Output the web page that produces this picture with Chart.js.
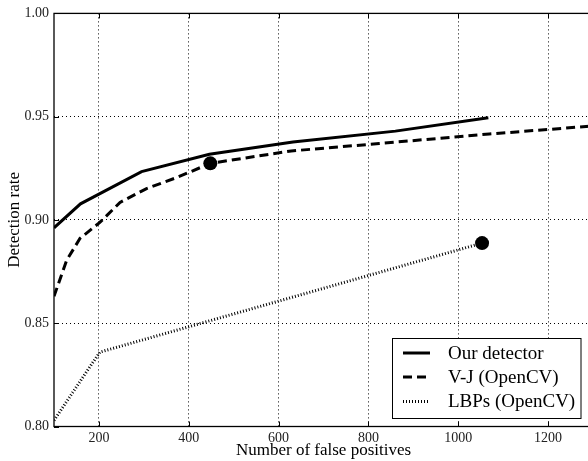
<!DOCTYPE html>
<html>
<head>
<meta charset="utf-8">
<script src="https://cdn.jsdelivr.net/npm/chart.js@4.4.0/dist/chart.umd.min.js"></script>
<style>
  html, body { margin: 0; padding: 0; background: #fff; overflow: hidden; }
  #wrap { width: 600px; height: 461px; }
</style>
</head>
<body>
<div id="wrap"><canvas id="myChart" width="600" height="461"></canvas></div>
<script>
// data
var ourX = [100, 159, 295, 446, 632, 860, 1067];
var ourY = [0.8962, 0.9078, 0.9234, 0.9318, 0.9377, 0.9430, 0.9495];

var vjX = [100, 128, 158, 202, 247, 306, 373, 448, 628, 824, 1069, 1300];
var vjY = [0.863, 0.8804, 0.8911, 0.8988, 0.9085, 0.9152, 0.9205, 0.9274, 0.9334, 0.9370, 0.9416, 0.9455];

var lbpX = [100, 202, 1053];
var lbpY = [0.803, 0.836, 0.8888];

// highlighted operating points
var markX = [448, 1053];
var markY = [0.9274, 0.8888];

var xTicks = [200, 400, 600, 800, 1000, 1200];
var yTicks = [0.80, 0.85, 0.90, 0.95, 1.00];
var legendNames = ["Our detector", "V-J (OpenCV)", "LBPs (OpenCV)"];

var serif = "'Liberation Serif', 'DejaVu Serif', serif";

function pts(xs, ys) {
  return xs.map(function(x, i){ return {x: x, y: ys[i]}; });
}

// frame, inward ticks and legend box
var framePlugin = {
  id: 'frame',
  afterDatasetsDraw: function(chart) {
    var ctx = chart.ctx;
    var a = chart.chartArea;
    var xs = chart.scales.x, ys = chart.scales.y;
    ctx.save();
    ctx.strokeStyle = '#000';
    ctx.lineWidth = 1.3;
    ctx.strokeRect(a.left, a.top, a.right - a.left, a.bottom - a.top);
    ctx.lineWidth = 1;
    ctx.beginPath();
    xTicks.forEach(function(v){
      var px = Math.round(xs.getPixelForValue(v)) + 0.5;
      ctx.moveTo(px, a.bottom); ctx.lineTo(px, a.bottom - 5);
      ctx.moveTo(px, a.top); ctx.lineTo(px, a.top + 5);
    });
    yTicks.forEach(function(v){
      var py = Math.round(ys.getPixelForValue(v)) + 0.5;
      ctx.moveTo(a.left, py); ctx.lineTo(a.left + 5, py);
      ctx.moveTo(a.right, py); ctx.lineTo(a.right - 5, py);
    });
    ctx.stroke();

    // legend
    var bx = 392.5, by = 338.5, bw = 188.5, bh = 80;
    ctx.fillStyle = '#fff';
    ctx.fillRect(bx, by, bw, bh);
    ctx.strokeStyle = '#000';
    ctx.lineWidth = 1;
    ctx.strokeRect(bx, by, bw, bh);
    var rows = [353, 377, 401.5];
    ctx.font = "19px " + serif;
    ctx.textBaseline = 'middle';
    ctx.textAlign = 'left';
    for (var i = 0; i < 3; i++) {
      var ds = chart.data.datasets[i];
      ctx.save();
      ctx.lineWidth = ds.borderWidth;
      ctx.lineCap = 'butt';
      ctx.setLineDash(ds.borderDash || []);
      ctx.beginPath();
      ctx.moveTo(403, rows[i]);
      ctx.lineTo(430, rows[i]);
      ctx.stroke();
      ctx.restore();
      ctx.fillStyle = '#000';
      ctx.fillText(legendNames[i], 448, rows[i] + 1);
    }
    ctx.restore();
  }
};

var ctx = document.getElementById("myChart").getContext("2d");
var myChart = new Chart(ctx, {
  type: 'line',
  data: {
    datasets: [
      {
        label: legendNames[0],
        data: pts(ourX, ourY),
        borderColor: '#000',
        borderWidth: 3,
        pointRadius: 0,
        fill: false
      },
      {
        label: legendNames[1],
        data: pts(vjX, vjY),
        borderColor: '#000',
        borderWidth: 3,
        borderDash: [9, 5],
        pointRadius: 0,
        fill: false
      },
      {
        label: legendNames[2],
        data: pts(lbpX, lbpY),
        borderColor: '#000',
        borderWidth: 3,
        borderDash: [1, 2],
        pointRadius: 0,
        fill: false
      },
      {
        label: 'points',
        data: pts(markX, markY),
        showLine: false,
        pointRadius: 7,
        pointBackgroundColor: '#000',
        pointBorderColor: '#000',
        pointBorderWidth: 0
      }
    ]
  },
  options: {
    responsive: false,
    animation: false,
    devicePixelRatio: 1,
    layout: { padding: { top: 12.5, right: 6, left: 0, bottom: 0 } },
    plugins: {
      legend: { display: false },
      tooltip: { enabled: false }
    },
    elements: { line: { tension: 0, borderCapStyle: 'butt' } },
    scales: {
      x: {
        type: 'linear',
        min: 100,
        max: 1300,
        afterBuildTicks: function(s){ s.ticks = xTicks.map(function(v){ return {value: v}; }); },
        afterFit: function(s){ s.height = 34.5; },
        grid: { color: '#000', lineWidth: 1, drawTicks: false },
        border: { display: false, dash: [1, 3] },
        ticks: {
          color: '#222',
          padding: 3,
          maxRotation: 0,
          font: { family: serif, size: 14 },
          callback: function(v){ return String(v); }
        },
        title: {
          display: true,
          text: 'Number of false positives',
          color: '#000',
          font: { family: serif, size: 17 },
          padding: { top: 0, bottom: 0 }
        }
      },
      y: {
        min: 0.8,
        max: 1.0,
        afterBuildTicks: function(s){ s.ticks = yTicks.map(function(v){ return {value: v}; }); },
        afterFit: function(s){ s.width = 54; },
        grid: { color: '#000', lineWidth: 1, drawTicks: false },
        border: { display: false, dash: [1, 3] },
        ticks: {
          color: '#222',
          padding: 5,
          font: { family: serif, size: 14 },
          callback: function(v){ return Number(v).toFixed(2); }
        },
        title: {
          display: true,
          text: 'Detection rate',
          color: '#000',
          font: { family: serif, size: 17 },
          padding: { top: 4, bottom: 0 }
        }
      }
    }
  },
  plugins: [framePlugin]
});
</script>
</body>
</html>
